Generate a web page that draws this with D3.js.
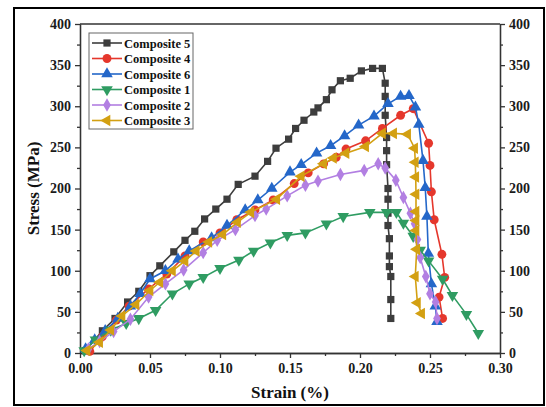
<!DOCTYPE html>
<html>
<head>
<meta charset="utf-8">
<script src="https://cdn.jsdelivr.net/npm/d3@7"></script>
<style>
  body { margin: 0; background: #fff; }
  text { font-family: "Liberation Serif", "Times New Roman", serif; font-weight: bold; }
</style>
</head>
<body>
<svg width="546" height="407"></svg>
<script>
// strain (%), stress (MPa)
const comp5 = [[0.004,3],[0.016,27],[0.025,42],[0.034,62],[0.042,75],[0.050,94],[0.057,106],[0.067,123],[0.075,137],[0.082,148],[0.089,163],[0.097,175],[0.105,187],[0.113,205],[0.125,215],[0.134,233],[0.140,249],[0.149,260],[0.154,273],[0.160,283],[0.167,293],[0.170,298],[0.176,308],[0.180,320],[0.186,331],[0.193,334],[0.201,343],[0.209,346],[0.216,346],[0.218,328],[0.218,312],[0.218,289],[0.219,262],[0.219,246],[0.219,229],[0.220,200],[0.220,187],[0.220,170],[0.220,155],[0.221,139],[0.221,118],[0.221,105],[0.222,93],[0.222,65],[0.222,42]]
const comp4 = [[0.007,2],[0.016,20],[0.026,40],[0.035,57],[0.049,78],[0.062,96],[0.075,118],[0.088,135],[0.100,146],[0.112,162],[0.125,174],[0.138,186],[0.153,206],[0.163,219],[0.174,230],[0.183,238],[0.190,248],[0.204,258],[0.216,273],[0.229,289],[0.238,297],[0.249,255],[0.250,228],[0.251,196],[0.253,162],[0.2585,120],[0.2605,92],[0.2565,68],[0.259,42]]
const comp6 = [[0.004,5],[0.0105,16],[0.018,27],[0.027,42],[0.036,57],[0.043,72],[0.050,90],[0.061,100],[0.070,114],[0.078,124],[0.094,140],[0.105,155],[0.118,174],[0.127,186],[0.137,200],[0.150,220],[0.158,229],[0.169,243],[0.179,252],[0.189,264],[0.199,277],[0.210,288],[0.220,303],[0.229,312],[0.235,313],[0.2396,299],[0.242,278],[0.245,234],[0.2466,201],[0.2478,166],[0.2488,121],[0.251,84],[0.2538,57],[0.255,38]]
const comp1 = [[0.003,3],[0.011,16],[0.022,28],[0.033,36],[0.042,42],[0.054,52],[0.066,72],[0.078,84],[0.088,92],[0.100,103],[0.1135,113],[0.124,124],[0.136,134],[0.148,143],[0.161,146],[0.176,157],[0.188,166],[0.207,171],[0.219,171],[0.226,171],[0.231,158],[0.238,142],[0.243,125],[0.249,112],[0.259,90],[0.266,70],[0.276,47],[0.2845,24]]
const comp2 = [[0.006,5],[0.014,14],[0.024,26],[0.036,41],[0.049,68],[0.061,84],[0.074,101],[0.088,122],[0.098,137],[0.111,150],[0.125,167],[0.133,175],[0.148,191],[0.161,204],[0.170,209],[0.186,217],[0.203,222],[0.213,230],[0.218,225],[0.2256,210],[0.231,189],[0.236,170],[0.239,157],[0.241,138],[0.243,116],[0.247,93],[0.250,72],[0.254,62],[0.255,42]]
const comp3 = [[0.005,3],[0.014,13],[0.022,28],[0.030,45],[0.040,59],[0.050,76],[0.057,86],[0.066,100],[0.075,112],[0.083,124],[0.092,135],[0.102,144],[0.1125,159],[0.122,171],[0.1405,187],[0.158,215],[0.174,230],[0.181,237],[0.190,243],[0.204,251],[0.216,267],[0.224,267],[0.234,266],[0.239,249],[0.2395,232],[0.2398,214],[0.240,193],[0.240,172],[0.240,161],[0.240,149],[0.2405,126],[0.2395,93],[0.241,61],[0.244,48]]

const names = ['Composite 5','Composite 4','Composite 6','Composite 1','Composite 2','Composite 3']
const colors = ['#3d3d3d','#e5372c','#2467c9','#2f9c62','#b27fe2','#d3a012']
const xTicks = [0,0.05,0.10,0.15,0.20,0.25,0.30]
const yTicks = [0,50,100,150,200,250,300,350,400]

const series = [comp5,comp4,comp6,comp1,comp2,comp3]
// marker for each series: symbol type + rotation + size
const shapes = [[d3.symbolSquare,0,52],[d3.symbolCircle,0,62],[d3.symbolTriangle,0,58],[d3.symbolTriangle,180,58],[d3.symbolDiamond,0,52],[d3.symbolTriangle,-90,58]]

const svg = d3.select('svg')
const pLeft = 80, pRight = 500, pTop = 24, pBottom = 353

const x = d3.scaleLinear().domain([0,0.30]).range([pLeft,pRight])
const y = d3.scaleLinear().domain([0,400]).range([pBottom,pTop])

// outer frame
svg.append('rect').attr('x',14).attr('y',8).attr('width',530).attr('height',397)
   .attr('fill','none').attr('stroke','#000').attr('stroke-width',2)

const axColor = '#333'
const fmtX = d3.format('.2f')

function styleAxis(g){
  g.selectAll('path,line').attr('stroke',axColor).attr('stroke-width',1.3)
  g.selectAll('text').attr('fill','#1a1a1a').style('font-size','14px')
}

// major axes
svg.append('g').attr('transform',`translate(0,${pBottom})`)
   .call(d3.axisBottom(x).tickValues(xTicks).tickFormat(fmtX).tickSize(5).tickPadding(5).tickSizeOuter(0))
   .call(styleAxis)
svg.append('g').attr('transform',`translate(${pLeft},0)`)
   .call(d3.axisLeft(y).tickValues(yTicks).tickSize(5).tickPadding(4).tickSizeOuter(0))
   .call(styleAxis)
svg.append('g').attr('transform',`translate(${pRight},0)`)
   .call(d3.axisRight(y).tickValues(yTicks).tickSize(5).tickPadding(4).tickSizeOuter(0))
   .call(styleAxis)
svg.append('line').attr('x1',pLeft).attr('x2',pRight).attr('y1',pTop).attr('y2',pTop)
   .attr('stroke',axColor).attr('stroke-width',1.3)

// minor ticks
const xMinor = xTicks.slice(0,-1).map(d=>d+0.025)
const yMinor = yTicks.slice(0,-1).map(d=>d+25)
svg.append('g').attr('transform',`translate(0,${pBottom})`)
   .call(d3.axisBottom(x).tickValues(xMinor).tickFormat('').tickSize(3).tickSizeOuter(0))
   .call(styleAxis)
svg.append('g').attr('transform',`translate(${pLeft},0)`)
   .call(d3.axisLeft(y).tickValues(yMinor).tickFormat('').tickSize(3).tickSizeOuter(0))
   .call(styleAxis)
svg.append('g').attr('transform',`translate(${pRight},0)`)
   .call(d3.axisRight(y).tickValues(yMinor).tickFormat('').tickSize(3).tickSizeOuter(0))
   .call(styleAxis)

// axis titles
svg.append('text').attr('x',(pLeft+pRight)/2).attr('y',398).attr('text-anchor','middle')
   .style('font-size','17px').attr('fill','#111').text('Strain (%)')
svg.append('text').attr('transform',`translate(39,${(pTop+pBottom)/2}) rotate(-90)`)
   .attr('text-anchor','middle').style('font-size','17px').attr('fill','#111').text('Stress (MPa)')

const line = d3.line().x(d=>x(d[0])).y(d=>y(d[1]))

series.forEach((data,i)=>{
  const g = svg.append('g')
  g.append('path').datum(data).attr('d',line).attr('fill','none')
   .attr('stroke',colors[i]).attr('stroke-width',1.6)
  const sym = d3.symbol().type(shapes[i][0]).size(shapes[i][2])
  g.selectAll('path.m').data(data).enter().append('path').attr('class','m')
   .attr('d',sym)
   .attr('transform',d=>`translate(${x(d[0])},${y(d[1])}) rotate(${shapes[i][1]})`)
   .attr('fill',colors[i])
})

// legend
const lg = svg.append('g')
lg.append('rect').attr('x',89).attr('y',33).attr('width',104).attr('height',96)
  .attr('fill','#fff').attr('stroke','#666').attr('stroke-width',1)
names.forEach((n,i)=>{
  const ly = 43 + i*15.5
  lg.append('line').attr('x1',92).attr('x2',122).attr('y1',ly).attr('y2',ly)
    .attr('stroke',colors[i]).attr('stroke-width',1.6)
  lg.append('path').attr('d',d3.symbol().type(shapes[i][0]).size(shapes[i][2])())
    .attr('transform',`translate(107,${ly}) rotate(${shapes[i][1]})`).attr('fill',colors[i])
  lg.append('text').attr('x',124).attr('y',ly+4.5).style('font-size','12.5px').attr('fill','#111').text(n)
})
</script>
</body>
</html>
